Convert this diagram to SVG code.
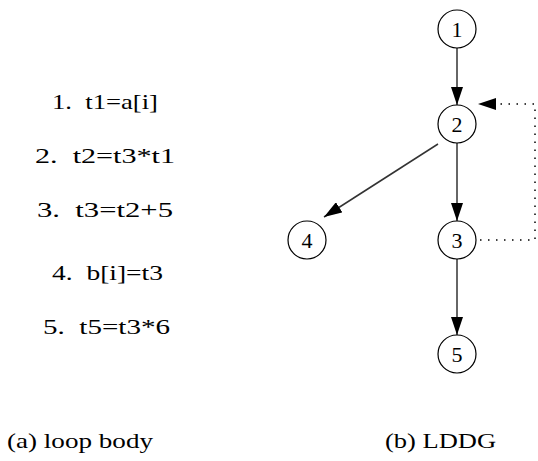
<svg xmlns="http://www.w3.org/2000/svg" width="538" height="461" viewBox="0 0 538 461">
<style>
.t{font-family:"Liberation Serif","DejaVu Serif",serif;font-size:21px;fill:#000;white-space:pre}
.n circle{fill:#fff;stroke:#000;stroke-width:1.2}
.n text{font-family:"Liberation Serif","DejaVu Serif",serif;font-size:22px;text-anchor:middle;fill:#000}
.e{stroke:#333;stroke-width:1.5;fill:none}
.d{stroke:#000;stroke-width:1.5;fill:none;stroke-dasharray:1.5 6.5}
</style>
<defs>
<marker id="a" viewBox="0 0 18 12" refX="18" refY="6" markerWidth="18" markerHeight="12" markerUnits="userSpaceOnUse" orient="auto">
<path d="M0,0 L18,6 L0,12 Z" fill="#000"/>
</marker>
</defs>
<g id="code">
<text class="t" x="52" y="109" textLength="106" lengthAdjust="spacingAndGlyphs">1.  t1=a[i]</text>
<text class="t" x="35" y="163" textLength="140" lengthAdjust="spacingAndGlyphs">2.  t2=t3*t1</text>
<text class="t" x="37" y="217" textLength="136" lengthAdjust="spacingAndGlyphs">3.  t3=t2+5</text>
<text class="t" x="52" y="280" textLength="111" lengthAdjust="spacingAndGlyphs">4.  b[i]=t3</text>
<text class="t" x="43" y="334" textLength="127" lengthAdjust="spacingAndGlyphs">5.  t5=t3*6</text>
</g>
<g id="connectors">
<line class="e" x1="457" y1="48" x2="457" y2="105" marker-end="url(#a)"/>
<line class="e" x1="457" y1="143" x2="457" y2="221" marker-end="url(#a)"/>
<line class="e" x1="457" y1="259" x2="457" y2="335" marker-end="url(#a)"/>
<line class="e" x1="438" y1="144" x2="324" y2="217" marker-end="url(#a)"/>
<polyline class="d" points="480,240 535,240 535,104 497,104"/>
<path d="M478,104 L496,98 L496,110 Z" fill="#000"/>
</g>
<g id="n1" class="n"><circle cx="457" cy="29" r="19"/><text x="457" y="37">1</text></g>
<g id="n2" class="n"><circle cx="457" cy="124" r="19"/><text x="457" y="132">2</text></g>
<g id="n3" class="n"><circle cx="457" cy="240" r="19"/><text x="457" y="248">3</text></g>
<g id="n4" class="n"><circle cx="307" cy="240" r="19"/><text x="307" y="248">4</text></g>
<g id="n5" class="n"><circle cx="457" cy="354" r="19"/><text x="457" y="362">5</text></g>
<g id="captions">
<text class="t" x="7" y="448" textLength="146" lengthAdjust="spacingAndGlyphs">(a) loop body</text>
<text class="t" x="385" y="448" textLength="111" lengthAdjust="spacingAndGlyphs">(b) LDDG</text>
</g>
</svg>
